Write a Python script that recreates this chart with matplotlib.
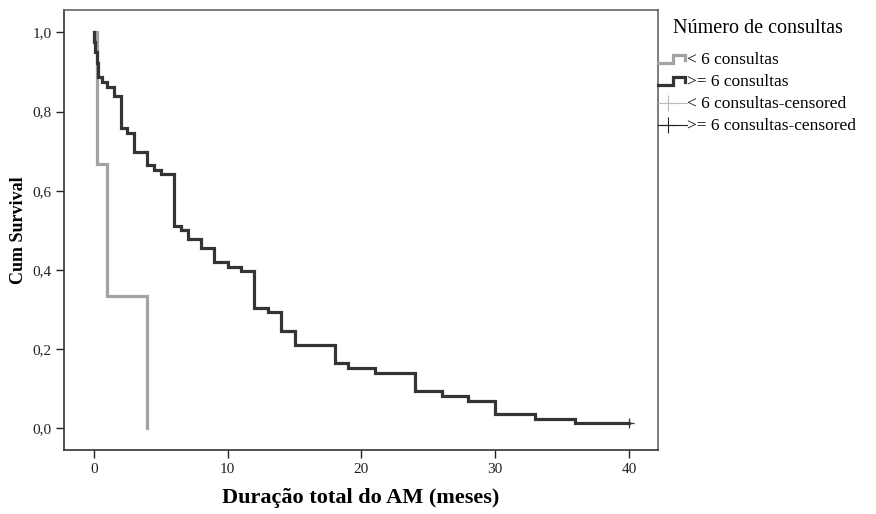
import matplotlib.pyplot as plt
from matplotlib.legend_handler import HandlerBase
from matplotlib.lines import Line2D

# Kaplan-Meier curves (time in months, survival after the step)
low_times = [0.0, 0.2, 1.0, 4.0]
low_surv = [1.0, 0.667, 0.333, 0.0]

high_times = [0.0, 0.0, 0.1, 0.2, 0.3, 0.6, 1.0, 1.5, 2.0, 2.5, 3.0, 4.0,
              4.5, 5.0, 6.0, 6.5, 7.0, 8.0, 9.0, 10.0, 11.0, 12.0, 13.0, 14.0,
              15.0, 18.0, 19.0, 21.0, 24.0, 26.0, 28.0, 30.0, 33.0, 36.0, 40.0]
high_surv = [1.0, 0.975, 0.95, 0.923, 0.886, 0.874, 0.862, 0.839, 0.758,
             0.745, 0.698, 0.665, 0.653, 0.641, 0.512, 0.501, 0.479, 0.455, 0.421,
             0.408, 0.397, 0.303, 0.293, 0.246, 0.210, 0.164, 0.152, 0.140, 0.094,
             0.082, 0.070, 0.036, 0.024, 0.0125, 0.0125]
high_censored_t = [40.0]
high_censored_s = [0.0125]

x_ticks = [0, 10, 20, 30, 40]
y_ticks = [0.0, 0.2, 0.4, 0.6, 0.8, 1.0]
y_tick_labels = ["0,0", "0,2", "0,4", "0,6", "0,8", "1,0"]

legend_title = "Número de consultas"
legend_labels = ["< 6 consultas", ">= 6 consultas", "< 6 consultas-censored",
                 ">= 6 consultas-censored"]

LOW_COLOR = "#a3a3a3"
HIGH_COLOR = "#343434"

plt.rcParams["font.family"] = "Liberation Serif"


class StepHandler(HandlerBase):
    def create_artists(self, legend, orig_handle, xdescent, ydescent,
                       width, height, fontsize, trans):
        x0 = -xdescent
        y0 = -ydescent
        xs = [x0, x0 + 0.52 * width, x0 + 0.52 * width, x0 + 0.93 * width,
              x0 + 0.93 * width]
        ys = [y0 + 0.1 * height, y0 + 0.1 * height, y0 + 0.75 * height,
              y0 + 0.75 * height, y0 + 0.3 * height]
        line = Line2D(xs, ys, color=orig_handle.get_color(),
                      linewidth=orig_handle.get_linewidth(), transform=trans,
                      solid_joinstyle="miter")
        return [line]


class CensorHandler(HandlerBase):
    def create_artists(self, legend, orig_handle, xdescent, ydescent,
                       width, height, fontsize, trans):
        y = -ydescent + 0.4 * height
        line = Line2D([-xdescent, -xdescent + width], [y, y],
                      color=orig_handle.get_color(), linewidth=0.8, transform=trans)
        mark = Line2D([-xdescent + 0.35 * width], [y], marker="+", markersize=11,
                      markeredgewidth=0.8, color=orig_handle.get_color(),
                      linestyle="none", transform=trans)
        return [line, mark]


fig = plt.figure(figsize=(8.76, 5.14), dpi=100)
ax = fig.add_axes([0.0731, 0.1245, 0.678, 0.856])

ax.step(low_times, low_surv, where="post", color=LOW_COLOR, linewidth=2.3,
        solid_joinstyle="miter")
ax.step(high_times, high_surv, where="post", color=HIGH_COLOR, linewidth=2.3,
        solid_joinstyle="miter")
ax.plot(high_censored_t, high_censored_s, linestyle="none", marker="+",
        markersize=7, markeredgewidth=0.9, color=HIGH_COLOR)

ax.set_xlim(-2.24, 42.17)
ax.set_ylim(-0.0548, 1.0563)
ax.set_xticks(x_ticks)
ax.set_yticks(y_ticks)
ax.set_yticklabels(y_tick_labels)
ax.tick_params(direction="out", length=5.5, width=1, colors="#222222",
               labelsize=11)
for side, spine in ax.spines.items():
    spine.set_color("#333333" if side in ("left", "bottom") else "#666666")
    spine.set_linewidth(1.2)

ax.set_xlabel("Duração total do AM (meses)", fontsize=16, fontweight="bold",
              labelpad=9)
ax.set_ylabel("Cum Survival", fontsize=13, fontweight="bold", labelpad=4)

handles = [
    Line2D([], [], color=LOW_COLOR, linewidth=2.3),
    Line2D([], [], color=HIGH_COLOR, linewidth=2.3),
    Line2D([], [], color="#bbbbbb"),
    Line2D([], [], color="#222222"),
]
leg = ax.legend(handles, legend_labels, loc="upper left",
                bbox_to_anchor=(1.0, 0.905), frameon=False,
                fontsize=12.5, handlelength=1.65, handletextpad=0.05,
                labelspacing=0.33, borderaxespad=0.0, borderpad=0.0,
                handler_map={handles[0]: StepHandler(), handles[1]: StepHandler(),
                             handles[2]: CensorHandler(), handles[3]: CensorHandler()})
ax.text(1.025, 0.959, legend_title, transform=ax.transAxes, fontsize=14.5,
        ha="left", va="center")

fig.savefig("out.png", dpi=100)
